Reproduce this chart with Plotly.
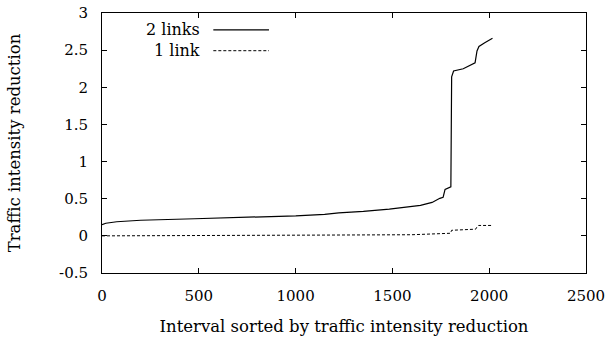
import plotly.graph_objects as go

# 2 links series
x_two = [0, 20, 76, 200, 479, 800, 1001, 1150, 1223, 1350, 1484, 1645, 1705, 1745, 1762, 1772, 1790, 1802,
         1806, 1816, 1866, 1927, 1937, 1947, 1977, 2017]
y_two = [0.15, 0.17, 0.19, 0.21, 0.23, 0.25, 0.27, 0.29, 0.31, 0.33, 0.36, 0.41, 0.45, 0.505, 0.52, 0.625, 0.64, 0.66,
         2.14, 2.22, 2.25, 2.33, 2.49, 2.55, 2.60, 2.66]

# 1 link series
x_one = [0, 1000, 1100, 1600, 1685, 1786, 1800, 1806, 1930, 1937, 1945, 2017]
y_one = [0, 0, 0.01, 0.015, 0.02, 0.03, 0.035, 0.075, 0.09, 0.12, 0.14, 0.14]

x_ticks = [0, 500, 1000, 1500, 2000, 2500]
x_tick_text = ["0", "500", "1000", "1500", "2000", "2500"]
y_ticks = [-0.5, 0, 0.5, 1, 1.5, 2, 2.5, 3]
y_tick_text = ["-0.5", "0", "0.5", "1", "1.5", "2", "2.5", "3"]

series_names = ["2 links", "1 link"]

FONT = "DejaVu Serif"
FS_TICK = 15
FS_TITLE = 16.5
FS_LEG = 16

fig = go.Figure()
fig.add_trace(go.Scatter(x=x_two, y=y_two, mode="lines", name=series_names[0],
                         line=dict(color="black", width=1.2), showlegend=False))
fig.add_trace(go.Scatter(x=x_one, y=y_one, mode="lines", name=series_names[1],
                         line=dict(color="black", width=1, dash="3px,2px"), showlegend=False))

# gnuplot-style legend: text right-aligned, sample to the right
legend_rows = [(series_names[0], 0.935, "solid", 1.2), (series_names[1], 0.855, "3px,2px", 1)]
for name, yp, dash, w in legend_rows:
    fig.add_annotation(xref="paper", yref="paper", x=0.206, y=yp, text=name, showarrow=False,
                       xanchor="right", yanchor="middle", font=dict(family=FONT, size=FS_LEG, color="black"))
    fig.add_shape(type="line", xref="paper", yref="paper", x0=0.23, x1=0.345, y0=yp, y1=yp,
                  line=dict(color="black", width=w, dash=dash))

axis_common = dict(showline=True, linecolor="black", linewidth=1, mirror="ticks", ticks="inside",
                   ticklen=5, tickcolor="black", showgrid=False, zeroline=False, automargin=False,
                   tickfont=dict(family=FONT, size=FS_TICK, color="black"))

fig.update_xaxes(range=[0, 2500], tickvals=x_ticks, ticktext=x_tick_text,
                 title=dict(text="Interval sorted by traffic intensity reduction",
                            font=dict(family=FONT, size=FS_TITLE, color="black"), standoff=16),
                 ticklabelstandoff=9, **axis_common)
fig.update_yaxes(range=[-0.5, 3], tickvals=y_ticks, ticktext=y_tick_text,
                 title=dict(text="Traffic intensity reduction",
                            font=dict(family=FONT, size=FS_TITLE, color="black"), standoff=34),
                 ticklabelstandoff=10, **axis_common)

fig.update_layout(width=610, height=341, margin=dict(l=102, r=24, t=13, b=68),
                  plot_bgcolor="white", paper_bgcolor="white",
                  font=dict(family=FONT, size=FS_TICK, color="black"))

fig.write_html("out.html")
